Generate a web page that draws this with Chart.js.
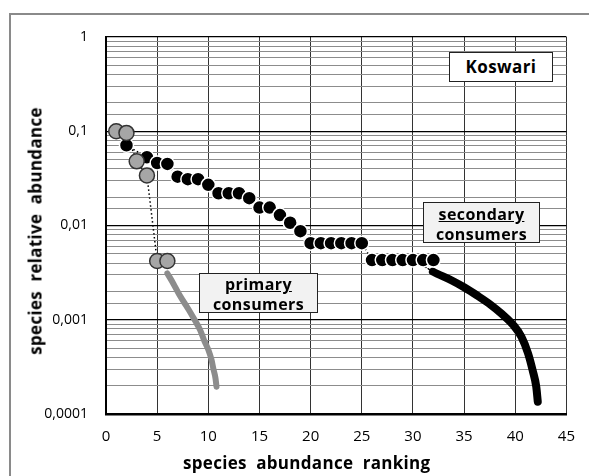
<!DOCTYPE html>
<html>
<head>
<meta charset="utf-8">
<script src="https://cdn.jsdelivr.net/npm/chart.js@4.4.1/dist/chart.umd.min.js"></script>
<style>
body { margin: 0; width: 589px; height: 476px; overflow: hidden; background: #fff; position: relative; font-family: 'Open Sans', sans-serif; }
#frame { position: absolute; left: 9px; top: 13px; width: 700px; height: 600px; border: 2px solid #8a8a8a; }
#chart { position: absolute; left: 0; top: 0; }
.box { position: absolute; box-sizing: border-box; border: 1.5px solid #222; font-weight: bold; text-align: center; color: #000; letter-spacing: 0.4px; }
.axisTitle { position: absolute; font-weight: bold; font-size: 17px; white-space: pre; color: #000; letter-spacing: 0.3px; }
</style>
</head>
<body>
<div id="frame"></div>
<canvas id="chart" width="589" height="476"></canvas>

<div class="box" style="left:449px;top:52px;width:104px;height:30px;background:#fff;font-size:17px;line-height:27px;">Koswari</div>
<div class="box" style="left:423px;top:202px;width:117px;height:41px;background:#f2f2f2;font-size:16px;line-height:20px;padding-top:1px;"><u>secondary</u><br>consumers</div>
<div class="box" style="left:199px;top:273px;width:119px;height:40px;background:#f2f2f2;font-size:16px;line-height:20px;padding-top:0px;"><u>primary</u><br>consumers</div>

<div class="axisTitle" style="left:183px;top:451px;">species  abundance  ranking</div>
<div class="axisTitle" style="left:35px;top:231px;transform:translate(-50%,-50%) rotate(-90deg);">species  relative  abundance</div>

<script>
// primary consumers, individual species (grey markers)
const primaryRank = [1, 2, 3, 4, 5, 6];
const primaryAbund = [0.1, 0.096, 0.048, 0.034, 0.0042, 0.0042];
// primary consumers, tail (thick grey line)
const primaryTailRank = [6.0, 6.6, 7.1, 7.6, 8.1, 8.7, 9.2, 9.6, 10.0, 10.3, 10.5, 10.7, 10.8];
const primaryTailAbund = [0.0031, 0.0024, 0.0019, 0.00155, 0.00127, 0.00098, 0.00078, 0.0006, 0.00048,
  0.00038, 0.0003, 0.00024, 0.000195];

// secondary consumers, individual species (black markers)
const secondaryRank = [2, 4, 5, 6, 7, 8, 9, 10, 11, 12, 13, 14, 15, 16, 17, 18, 19,
  20, 21, 22, 23, 24, 25, 26, 27, 28, 29, 30, 31, 32];
const secondaryAbund = [0.071, 0.053, 0.046, 0.045, 0.033, 0.031, 0.031, 0.027, 0.022, 0.022, 0.022, 0.0195,
  0.0155, 0.0155, 0.0129, 0.0107, 0.0087,
  0.0065, 0.0065, 0.0065, 0.0065, 0.0065, 0.0065,
  0.0043, 0.0043, 0.0043, 0.0043, 0.0043, 0.0043, 0.0043];
// secondary consumers, tail (thick black line), first segment is the dotted link
const secondaryTailRank = [30.5, 31.95, 33.7, 35.0, 36.3, 37.6, 38.7, 39.8, 40.6, 41.25, 41.7, 42.05, 42.2];
const secondaryTailAbund = [0.0041, 0.00324, 0.00264, 0.00221, 0.0018, 0.00144, 0.00115, 0.00088, 0.00066,
  0.00044, 0.00029, 0.000195, 0.000135];

const yDecades = [0.0001, 0.001, 0.01, 0.1, 1];
const yTickLabels = ['0,0001', '0,001', '0,01', '0,1', '1'];

function toPoints(xs, ys) {
    return xs.map((x, i) => ({ x: x, y: ys[i] }));
}

function decadeIndex(v) {
    return yDecades.findIndex(d => Math.abs(d - v) / d < 1e-6);
}

const tickFont = { family: "'Open Sans', sans-serif", size: 15 };

new Chart(document.getElementById('chart').getContext('2d'), {
    type: 'line',
    data: {
        datasets: [
            {
                data: toPoints(primaryRank, primaryAbund),
                showLine: true,
                borderColor: '#000',
                borderWidth: 1.5,
                borderDash: [1.5, 2.5],
                pointRadius: 7.5,
                pointBackgroundColor: '#a6a6a6',
                pointBorderColor: '#333',
                pointBorderWidth: 1.5
            },
            {
                data: toPoints(secondaryRank, secondaryAbund),
                showLine: true,
                borderColor: '#000',
                borderWidth: 1.5,
                borderDash: [1.5, 2.5],
                pointRadius: 7,
                pointBackgroundColor: '#000',
                pointBorderColor: '#fff',
                pointBorderWidth: 1.5
            },
            {
                data: toPoints(primaryTailRank, primaryTailAbund),
                borderColor: '#8c8c8c',
                borderWidth: 6,
                borderCapStyle: 'round',
                cubicInterpolationMode: 'monotone',
                pointRadius: 0
            },
            {
                data: toPoints(secondaryTailRank, secondaryTailAbund),
                borderColor: '#000',
                borderWidth: 8,
                borderCapStyle: 'round',
                cubicInterpolationMode: 'monotone',
                pointRadius: 0,
                segment: {
                    borderWidth: ctx => ctx.p0DataIndex === 0 ? 1.5 : undefined,
                    borderDash: ctx => ctx.p0DataIndex === 0 ? [1.5, 2.5] : undefined
                }
            }
        ]
    },
    options: {
        responsive: false,
        animation: false,
        layout: { padding: { top: 37, right: 15, left: 0, bottom: 0 } },
        plugins: { legend: { display: false }, tooltip: { enabled: false } },
        scales: {
            x: {
                type: 'linear',
                min: 0,
                max: 45,
                afterFit: scale => { scale.height = 62; },
                ticks: { stepSize: 5, padding: 14, color: '#000', font: tickFont },
                grid: { color: '#333', lineWidth: 1, drawTicks: false },
                border: { color: '#000', width: 2.5 }
            },
            y: {
                type: 'logarithmic',
                min: 0.0001,
                max: 1,
                afterFit: scale => { scale.width = 106; },
                ticks: {
                    autoSkip: false,
                    padding: 18,
                    color: '#000',
                    font: { family: "'Open Sans', sans-serif", size: 14 },
                    callback: v => {
                        const i = decadeIndex(v);
                        return i >= 0 ? yTickLabels[i] : '';
                    }
                },
                grid: {
                    drawTicks: false,
                    color: ctx => decadeIndex(ctx.tick.value) >= 0 ? '#000' : '#8c8c8c',
                    lineWidth: ctx => decadeIndex(ctx.tick.value) >= 0 ? 1.2 : 1
                },
                border: { color: '#000', width: 2 }
            }
        }
    }
});
</script>
</body>
</html>
